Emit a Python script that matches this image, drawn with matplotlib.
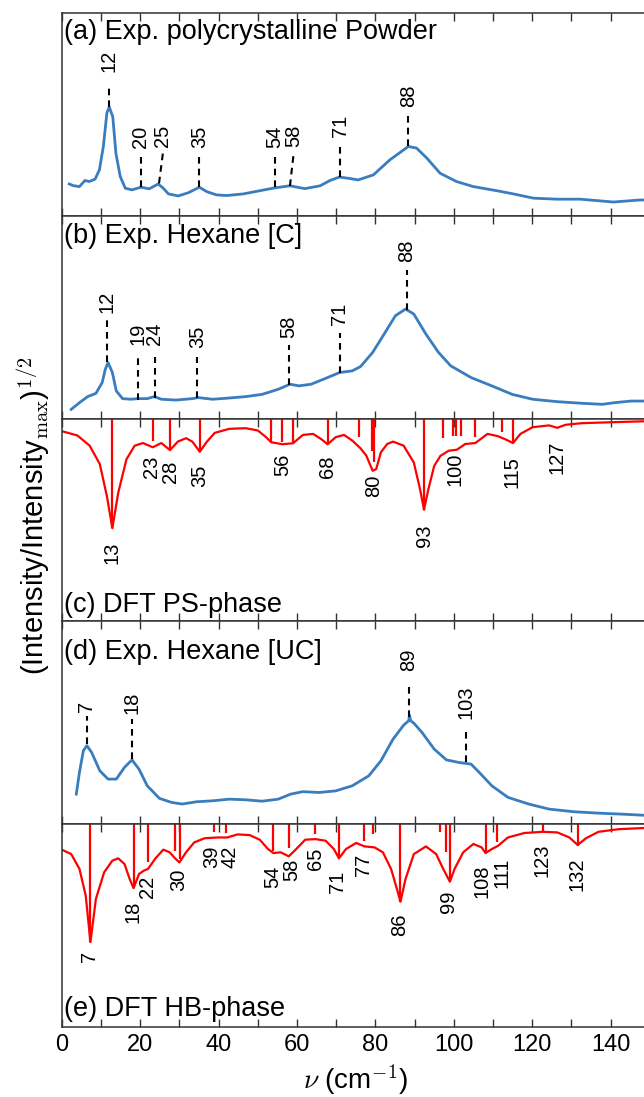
import numpy as np
import matplotlib
matplotlib.use("Agg")
import matplotlib.pyplot as plt

plt.rcParams['font.family'] = ['Liberation Sans', 'DejaVu Sans']
plt.rcParams['mathtext.fontset'] = 'cm'

# ---------------- data (x = wavenumber cm^-1, y = normalised panel height) -------------
# (a) Exp. polycrystalline powder
a_x = [1.9, 2.9, 4.5, 5.9, 7.0, 8.5, 9.6, 10.6, 11.5, 12.1, 13.0, 13.8, 14.9, 16.2, 17.9,
       20.2, 22.3, 24.6, 25.9, 27.2, 29.7, 32.3, 35.1, 37.0, 39.5, 42.1, 46.3, 50.6, 54.4,
       58.2, 62.0, 65.9, 68.4, 70.8, 73.5, 75.6, 79.5, 83.7, 88.4, 90.5, 93.1, 96.5, 100.7,
       105, 110.9, 115.2, 120.3, 126.2, 132.2, 140.7, 147.5, 150]
a_y = [0.158, 0.150, 0.145, 0.175, 0.170, 0.182, 0.228, 0.343, 0.508, 0.538, 0.49, 0.31,
       0.195, 0.137, 0.129, 0.142, 0.134, 0.158, 0.137, 0.109, 0.099, 0.115, 0.142, 0.12,
       0.104, 0.101, 0.109, 0.125, 0.139, 0.149, 0.135, 0.149, 0.175, 0.192, 0.185, 0.178,
       0.203, 0.277, 0.343, 0.335, 0.286, 0.211, 0.170, 0.145, 0.125, 0.109, 0.088, 0.083,
       0.083, 0.069, 0.079, 0.079]
a_lab = ['12', '20', '25', '35', '54', '58', '71', '88']
a_lab_x = [12.1, 20.2, 25.8, 35.1, 54.4, 59.1, 71.0, 88.4]
a_peak_x = [12.1, 20.2, 24.8, 35.1, 54.4, 58.2, 71.0, 88.4]
a_peak_y = [0.538, 0.142, 0.161, 0.142, 0.142, 0.148, 0.191, 0.345]
a_dash_top = [0.631, 0.296, 0.312, 0.296, 0.289, 0.301, 0.350, 0.498]
a_text_y = [0.710, 0.334, 0.342, 0.334, 0.334, 0.342, 0.388, 0.539]

# (b) Exp. Hexane [C]
b_x = [2.4, 4.5, 6.6, 8.7, 10.3, 11.1, 11.8, 12.9, 13.9, 15.5, 17.6, 19.5, 21.8, 23.6,
       25.4, 29.1, 33.3, 34.8, 38.5, 42.7, 46.9, 51.1, 55.2, 58.2, 60.5, 63.6, 67.8, 70.9,
       74.1, 76.2, 79.3, 82.5, 85.1, 87.7, 89.8, 92.9, 96.1, 99.2, 104.4, 109.7, 114.9,
       120.1, 126.4, 132.7, 137.9, 141, 145.2, 150]
b_y = [0.046, 0.079, 0.109, 0.125, 0.178, 0.244, 0.277, 0.228, 0.137, 0.099, 0.096, 0.099,
       0.099, 0.109, 0.096, 0.092, 0.099, 0.104, 0.096, 0.102, 0.109, 0.12, 0.145, 0.170,
       0.162, 0.170, 0.203, 0.228, 0.236, 0.257, 0.327, 0.426, 0.508, 0.541, 0.516, 0.417,
       0.327, 0.261, 0.203, 0.162, 0.120, 0.096, 0.084, 0.076, 0.071, 0.079, 0.087, 0.087]
b_lab = ['12', '19', '24', '35', '58', '71', '88']
b_lab_x = [11.6, 19.4, 23.75, 34.6, 58.0, 70.9, 88.0]
b_peak_y = [0.281, 0.092, 0.100, 0.100, 0.166, 0.224, 0.536]
b_dash_top = [0.487, 0.306, 0.306, 0.306, 0.364, 0.421, 0.734]
b_text_y = [0.520, 0.364, 0.364, 0.347, 0.397, 0.462, 0.775]

# (c) DFT PS-phase (plotted downward from the top)
c_x = [0.3, 4.0, 7.1, 9.7, 11.5, 12.9, 14.4, 16.5, 18.6, 20.7, 23.2, 25.4, 27.6, 29.6, 31.7,
       33.3, 35.2, 36.9, 39.0, 42.7, 46.9, 50.0, 52.1, 53.4, 56.3, 59.0, 61.5, 64.1, 66.2,
       67.8, 69.9, 72.0, 74.1, 76.2, 77.7, 79.3, 80.2, 81.4, 83.0, 84.5, 87.2, 89.8, 91.4,
       92.4, 93.5, 95.0, 96.6, 98.7, 100.8, 102.9, 105.5, 108.6, 111.2, 113.3, 115.1, 117.0,
       120.1, 124.3, 126.4, 128.5, 132.7, 141.0, 150]
c_y = [0.937, 0.917, 0.867, 0.776, 0.618, 0.46, 0.635, 0.80, 0.867, 0.880, 0.859, 0.880,
       0.845, 0.887, 0.904, 0.887, 0.837, 0.884, 0.930, 0.950, 0.953, 0.942, 0.909, 0.884,
       0.874, 0.879, 0.920, 0.925, 0.899, 0.874, 0.909, 0.920, 0.892, 0.854, 0.817, 0.743,
       0.751, 0.834, 0.875, 0.887, 0.867, 0.784, 0.651, 0.551, 0.651, 0.767, 0.817, 0.842,
       0.847, 0.875, 0.880, 0.925, 0.914, 0.897, 0.880, 0.925, 0.958, 0.967, 0.955, 0.970,
       0.978, 0.983, 0.988]
c_stick_x = [12.9, 23.2, 27.6, 35.2, 53.4, 56.3, 59.0, 67.8, 75.9, 79.1, 79.6, 92.4, 97.3,
             99.8, 100.5, 101.8, 105.3, 112.3, 115.1]
c_stick_y = [0.46, 0.892, 0.85, 0.842, 0.884, 0.884, 0.884, 0.875, 0.909, 0.842, 0.784, 0.551,
             0.904, 0.914, 0.914, 0.914, 0.909, 0.935, 0.884]
c_lab = ['13', '23', '28', '35', '56', '68', '80', '93', '100', '115', '127']
c_lab_x = [12.9, 22.8, 27.8, 35.2, 56.3, 67.8, 79.5, 92.4, 100.2, 114.9, 126.4]
c_text_y = [0.394, 0.817, 0.792, 0.774, 0.827, 0.819, 0.726, 0.477, 0.834, 0.817, 0.892]

# (d) Exp. Hexane [UC]
d_x = [3.7, 4.5, 5.5, 6.4, 7.6, 9.7, 11.8, 13.9, 16.0, 17.9, 19.7, 21.8, 24.9, 28.0, 30.7,
       34.3, 38.5, 42.7, 46.9, 51.1, 55.2, 58.4, 61.5, 65.7, 69.9, 74.1, 78.3, 81.4, 84.5,
       87.2, 88.5, 88.7, 89.0, 89.8, 91.9, 95.0, 98.1, 101.3, 104.4, 106.5, 109.7, 113.8,
       119.1, 124.3, 130.6, 136.9, 143.1, 150]
d_y = [0.148, 0.255, 0.362, 0.387, 0.354, 0.263, 0.222, 0.222, 0.280, 0.317, 0.271, 0.189,
       0.127, 0.107, 0.099, 0.110, 0.115, 0.123, 0.120, 0.113, 0.123, 0.148, 0.160, 0.156,
       0.164, 0.189, 0.238, 0.312, 0.419, 0.488, 0.51, 0.538, 0.51, 0.498, 0.452, 0.370,
       0.317, 0.304, 0.296, 0.255, 0.189, 0.132, 0.099, 0.074, 0.061, 0.054, 0.049, 0.042]
d_lab = ['7', '18', '89', '103']
d_lab_x = [6.4, 17.9, 88.5, 103.2]
d_peak_y = [0.395, 0.321, 0.526, 0.304]
d_dash_top = [0.535, 0.518, 0.702, 0.452]
d_text_y = [0.551, 0.543, 0.757, 0.518]

# (e) DFT HB-phase
e_x = [0, 2.4, 4.5, 6.1, 7.3, 8.7, 10.8, 12.9, 14.4, 16.0, 17.3, 18.3, 19.7, 20.9, 22.0,
       23.9, 25.9, 27.5, 28.9, 30.0, 31.7, 33.8, 36.4, 39.6, 42.2, 44.8, 47.9, 50.5, 52.6,
       54.0, 55.8, 57.9, 59.4, 62.1, 64.7, 67.3, 69.4, 70.7, 72.5, 75.1, 77.2, 79.8, 81.9,
       84.0, 85.6, 86.4, 87.7, 89.8, 92.9, 95.5, 97.3, 99.0, 100.2, 102.4, 105.0, 107.1,
       108.1, 109.7, 111.3, 113.8, 118.0, 122.7, 126.4, 129.5, 131.6, 133.7, 136.9, 142.1, 150]
e_y = [0.874, 0.852, 0.779, 0.648, 0.418, 0.631, 0.762, 0.820, 0.831, 0.803, 0.730, 0.684,
       0.754, 0.77, 0.779, 0.831, 0.874, 0.861, 0.831, 0.811, 0.861, 0.910, 0.93, 0.934,
       0.934, 0.949, 0.946, 0.923, 0.877, 0.857, 0.861, 0.841, 0.869, 0.923, 0.926, 0.918,
       0.877, 0.831, 0.877, 0.907, 0.890, 0.885, 0.861, 0.779, 0.672, 0.617, 0.730, 0.852,
       0.890, 0.852, 0.779, 0.716, 0.779, 0.861, 0.902, 0.885, 0.857, 0.877, 0.893, 0.934,
       0.956, 0.962, 0.959, 0.934, 0.897, 0.930, 0.962, 0.975, 0.982]
e_stick_x = [7.3, 18.3, 22.0, 28.9, 30.1, 38.7, 42.0, 54.0, 57.9, 64.7, 70.7, 77.2, 79.5,
             86.4, 96.4, 98.1, 99.0, 108.1, 110.9, 122.7, 131.6]
e_stick_y = [0.418, 0.689, 0.815, 0.869, 0.828, 0.962, 0.956, 0.869, 0.880, 0.951, 0.836,
             0.918, 0.951, 0.617, 0.959, 0.861, 0.721, 0.861, 0.910, 0.967, 0.893]
e_lab = ['7', '18', '22', '30', '39', '42', '54', '58', '65', '71', '77', '86', '99', '108',
         '111', '123', '132']
e_lab_x = [7.1, 18.1, 21.8, 29.9, 38.2, 43.0, 53.7, 58.6, 64.7, 70.4, 77.0, 86.1, 98.7,
           107.3, 112.2, 122.4, 131.4]
e_text_y = [0.377, 0.623, 0.746, 0.779, 0.893, 0.893, 0.795, 0.828, 0.885, 0.770, 0.852,
            0.557, 0.672, 0.80, 0.836, 0.902, 0.836]

titles = ['(a) Exp. polycrystalline Powder', '(b) Exp. Hexane [C]', '(c) DFT PS-phase',
          '(d) Exp. Hexane [UC]', '(e) DFT HB-phase']
title_y = [0.874, 0.865, 0.048, 0.813, 0.053]
xticks = list(range(0, 151, 10))

# ---------------- figure ----------------
W, H = 644, 1097
fig = plt.figure(figsize=(W / 100, H / 100), dpi=100)
left = 61.8 / W
width = 3.92 * 150 / W
ph = 202.7 / H
bottom0 = (H - 1026.8) / H

BLUE = '#3a7dbf'
RED = '#ff0000'
LAB_FS = 14.5
axes = []
for i in range(5):
    ax = fig.add_axes([left, bottom0 + (4 - i) * ph, width, ph])
    ax.set_xlim(0, 150)
    ax.set_ylim(0, 1)
    ax.set_yticks([])
    ax.set_xticks(xticks)
    ax.set_xticklabels([str(t) if t % 20 == 0 else '' for t in xticks])
    ax.tick_params(axis='x', direction='in', top=True, bottom=True, length=6, width=1.0,
                   labelsize=17, pad=5, labelbottom=(i == 4), color='#333333')
    for s in ax.spines.values():
        s.set_color('#333333')
        s.set_linewidth(1.1)
    axes.append(ax)

def exp_panel(ax, x, y, labs, lab_x, peak_x, peak_y, dash_top, text_y):
    ax.plot(x, y, color=BLUE, lw=2.0)
    for lab, lx, px, py, dt, ty in zip(labs, lab_x, peak_x, peak_y, dash_top, text_y):
        ax.plot([px, lx], [py, dt], color='black', lw=1.5, dashes=(3.2, 2.4))
        ax.text(lx, ty, lab, rotation=90, ha='center', va='bottom', fontsize=LAB_FS)

def dft_panel(ax, x, y, sx, sy, labs, lab_x, text_y):
    ax.plot(x, y, color=RED, lw=1.6)
    ax.vlines(sx, sy, 1.0, color=RED, lw=1.6)
    for lab, lx, ty in zip(labs, lab_x, text_y):
        ax.text(lx, ty, lab, rotation=90, ha='center', va='top', fontsize=LAB_FS)

exp_panel(axes[0], a_x, a_y, a_lab, a_lab_x, a_peak_x, a_peak_y, a_dash_top, a_text_y)
exp_panel(axes[1], b_x, b_y, b_lab, b_lab_x, b_lab_x, b_peak_y, b_dash_top, b_text_y)
dft_panel(axes[2], c_x, c_y, c_stick_x, c_stick_y, c_lab, c_lab_x, c_text_y)
exp_panel(axes[3], d_x, d_y, d_lab, d_lab_x, d_lab_x, d_peak_y, d_dash_top, d_text_y)
dft_panel(axes[4], e_x, e_y, e_stick_x, e_stick_y, e_lab, e_lab_x, e_text_y)

for ax, t, ty in zip(axes, titles, title_y):
    ax.text(0.6, ty, t, ha='left', va='baseline', fontsize=19.5)

axes[4].set_xlabel(r'$\nu$ (cm$^{-1}$)', fontsize=20, labelpad=5)
fig.text(33 / W, 1 - 516 / H, r'(Intensity/Intensity$_{\mathrm{max}}$)$^{1/2}$',
         rotation=90, ha='center', va='center', fontsize=21)

fig.savefig('out.png', dpi=100)
